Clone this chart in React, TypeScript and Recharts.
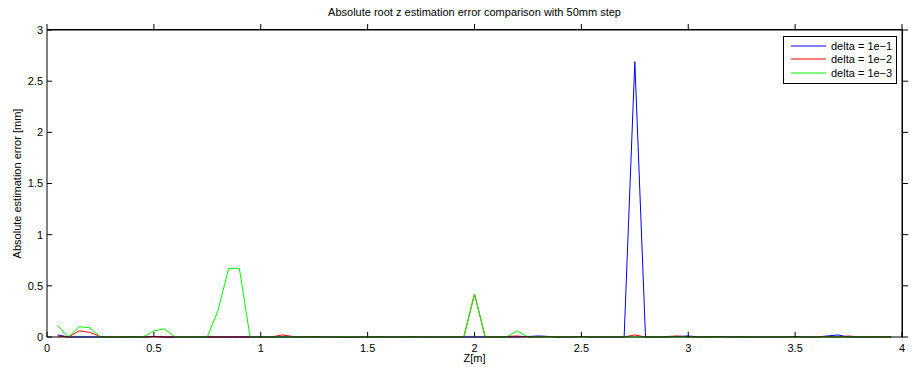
import React from 'react';
import { LineChart, Line, XAxis, YAxis } from 'recharts';

// z positions [m], 50mm step
const zValues = [
  0.05, 0.1, 0.15, 0.2, 0.25, 0.3, 0.35, 0.4, 0.45, 0.5,
  0.55, 0.6, 0.65, 0.7, 0.75, 0.8, 0.85, 0.9, 0.95, 1.0,
  1.05, 1.1, 1.15, 1.2, 1.25, 1.3, 1.35, 1.4, 1.45, 1.5,
  1.55, 1.6, 1.65, 1.7, 1.75, 1.8, 1.85, 1.9, 1.95, 2.0,
  2.05, 2.1, 2.15, 2.2, 2.25, 2.3, 2.35, 2.4, 2.45, 2.5,
  2.55, 2.6, 2.65, 2.7, 2.75, 2.8, 2.85, 2.9, 2.95, 3.0,
  3.05, 3.1, 3.15, 3.2, 3.25, 3.3, 3.35, 3.4, 3.45, 3.5,
  3.55, 3.6, 3.65, 3.7, 3.75, 3.8, 3.85, 3.9, 3.95,
];

const errDelta1 = [
  0.02, 0, 0, 0, 0, 0, 0, 0, 0, 0.005,
  0, 0, 0, 0, 0, 0, 0, 0, 0, 0,
  0, 0, 0, 0, 0, 0, 0, 0, 0, 0,
  0, 0, 0, 0, 0, 0, 0, 0, 0, 0,
  0, 0, 0, 0, 0.005, 0.01, 0.005, 0, 0, 0.005,
  0, 0, 0, 0, 2.69, 0, 0, 0, 0.005, 0.01,
  0, 0, 0.005, 0, 0, 0, 0, 0, 0, 0.005,
  0, 0, 0.01, 0.02, 0, 0, 0, 0, 0,
];

const errDelta2 = [
  0.01, 0, 0.06, 0.045, 0.005, 0, 0, 0.005, 0, 0.005,
  0, 0, 0, 0, 0, 0, 0, 0, 0, 0,
  0, 0.02, 0.005, 0, 0.005, 0, 0, 0, 0, 0,
  0.005, 0, 0, 0.005, 0, 0, 0, 0, 0, 0.42,
  0, 0, 0.005, 0.01, 0, 0, 0.005, 0, 0, 0.005,
  0, 0, 0, 0, 0.02, 0, 0, 0.005, 0.01, 0,
  0, 0.005, 0, 0, 0.005, 0, 0, 0, 0, 0,
  0, 0, 0.005, 0, 0.01, 0, 0, 0.005, 0,
];

const errDelta3 = [
  0.11, 0, 0.1, 0.09, 0, 0, 0, 0, 0, 0.06,
  0.08, 0, 0, 0, 0, 0.26, 0.67, 0.67, 0, 0,
  0, 0, 0, 0, 0, 0, 0, 0.005, 0, 0,
  0, 0, 0, 0, 0, 0, 0, 0, 0, 0.42,
  0, 0, 0, 0.06, 0, 0, 0, 0, 0, 0,
  0, 0, 0, 0, 0, 0, 0, 0, 0, 0,
  0, 0, 0, 0, 0, 0, 0, 0, 0, 0,
  0, 0, 0, 0, 0, 0, 0, 0, 0,
];

const xTicks = [0, 0.5, 1, 1.5, 2, 2.5, 3, 3.5, 4];
const yTicks = [0, 0.5, 1, 1.5, 2, 2.5, 3];

const seriesInfo = [
  { key: 'd1', name: 'delta = 1e\u22121', color: '#0000ff' },
  { key: 'd2', name: 'delta = 1e\u22122', color: '#ff0000' },
  { key: 'd3', name: 'delta = 1e\u22123', color: '#00ff00' },
];

const data = zValues.map((z, i) => ({
  z,
  d1: errDelta1[i],
  d2: errDelta2[i],
  d3: errDelta3[i],
}));

const FONT = '"Liberation Sans", Arial, Helvetica, sans-serif';
const tickStyle = { fill: '#000', fontSize: 11, fontFamily: FONT };

// top/right box axes: tick marks only, no labels
const NoLabel = () => <g />;

// legend drawn as an overlay so it doesn't shrink the plot area
const LegendBox = () => (
  <div
    style={{
      position: 'absolute',
      left: 783,
      top: 36,
      width: 112,
      padding: '2px 0 3px 0',
      border: '1px solid #000',
      background: '#fff',
      fontSize: 11,
      color: '#000',
    }}
  >
    {seriesInfo.map((s) => (
      <div key={s.key} style={{ display: 'flex', alignItems: 'center', height: 13.5 }}>
        <svg width={47} height={4} style={{ display: 'block' }}>
          <line x1={7} y1={2} x2={42} y2={2} stroke={s.color} strokeWidth={1} />
        </svg>
        <span>{s.name}</span>
      </div>
    ))}
  </div>
);

export default function App() {
  return (
    <div style={{ position: 'absolute', left: 0, top: 0, width: 912, height: 367, background: '#fff', fontFamily: FONT }}>
      <div
        style={{
          position: 'absolute',
          left: 47,
          width: 855,
          top: 6,
          textAlign: 'center',
          fontSize: 11,
          color: '#000',
        }}
      >
        Absolute root z estimation error comparison with 50mm step
      </div>
      <LineChart width={912} height={367} data={data} margin={{ top: 10, right: 0, bottom: 0, left: 0 }}>
        <XAxis
          dataKey="z"
          type="number"
          domain={[0, 4]}
          ticks={xTicks}
          interval={0}
          height={30}
          tickSize={-5}
          tickMargin={12}
          tick={tickStyle}
          stroke="#000"
          label={{ value: 'Z[m]', position: 'insideBottom', offset: 5, fill: '#000', fontSize: 11, fontFamily: FONT }}
        />
        <XAxis
          xAxisId="top"
          orientation="top"
          dataKey="z"
          type="number"
          domain={[0, 4]}
          tickCount={9}
          height={20}
          tick={NoLabel}
          stroke="#000"
        />
        <YAxis
          type="number"
          domain={[0, 3]}
          ticks={yTicks}
          interval={0}
          width={47}
          tickSize={-5}
          tickMargin={9}
          tick={tickStyle}
          stroke="#000"
          label={{
            value: 'Absolute estimation error [mm]',
            angle: -90,
            position: 'center',
            dx: -6,
            fill: '#000',
            fontSize: 11,
            fontFamily: FONT,
          }}
        />
        <YAxis
          yAxisId="right"
          orientation="right"
          domain={[0, 3]}
          tickCount={7}
          width={10}
          tick={NoLabel}
          stroke="#000"
        />
        {/* transparent copy bound to the top/right axes so the box axes get drawn */}
        <Line
          xAxisId="top"
          yAxisId="right"
          dataKey="d1"
          stroke="#000"
          strokeOpacity={0}
          dot={false}
          activeDot={false}
          legendType="none"
          isAnimationActive={false}
        />
        {seriesInfo.map((s) => (
          <Line
            key={s.key}
            type="linear"
            dataKey={s.key}
            name={s.name}
            stroke={s.color}
            strokeWidth={1}
            dot={false}
            activeDot={false}
            isAnimationActive={false}
          />
        ))}
      </LineChart>
      {/* plot frame, top and right edges */}
      <div
        style={{
          position: 'absolute',
          left: 47,
          top: 29,
          width: 855,
          height: 308,
          borderTop: '1px solid #000',
          borderRight: '1px solid #000',
          pointerEvents: 'none',
        }}
      />
      <LegendBox />
    </div>
  );
}
